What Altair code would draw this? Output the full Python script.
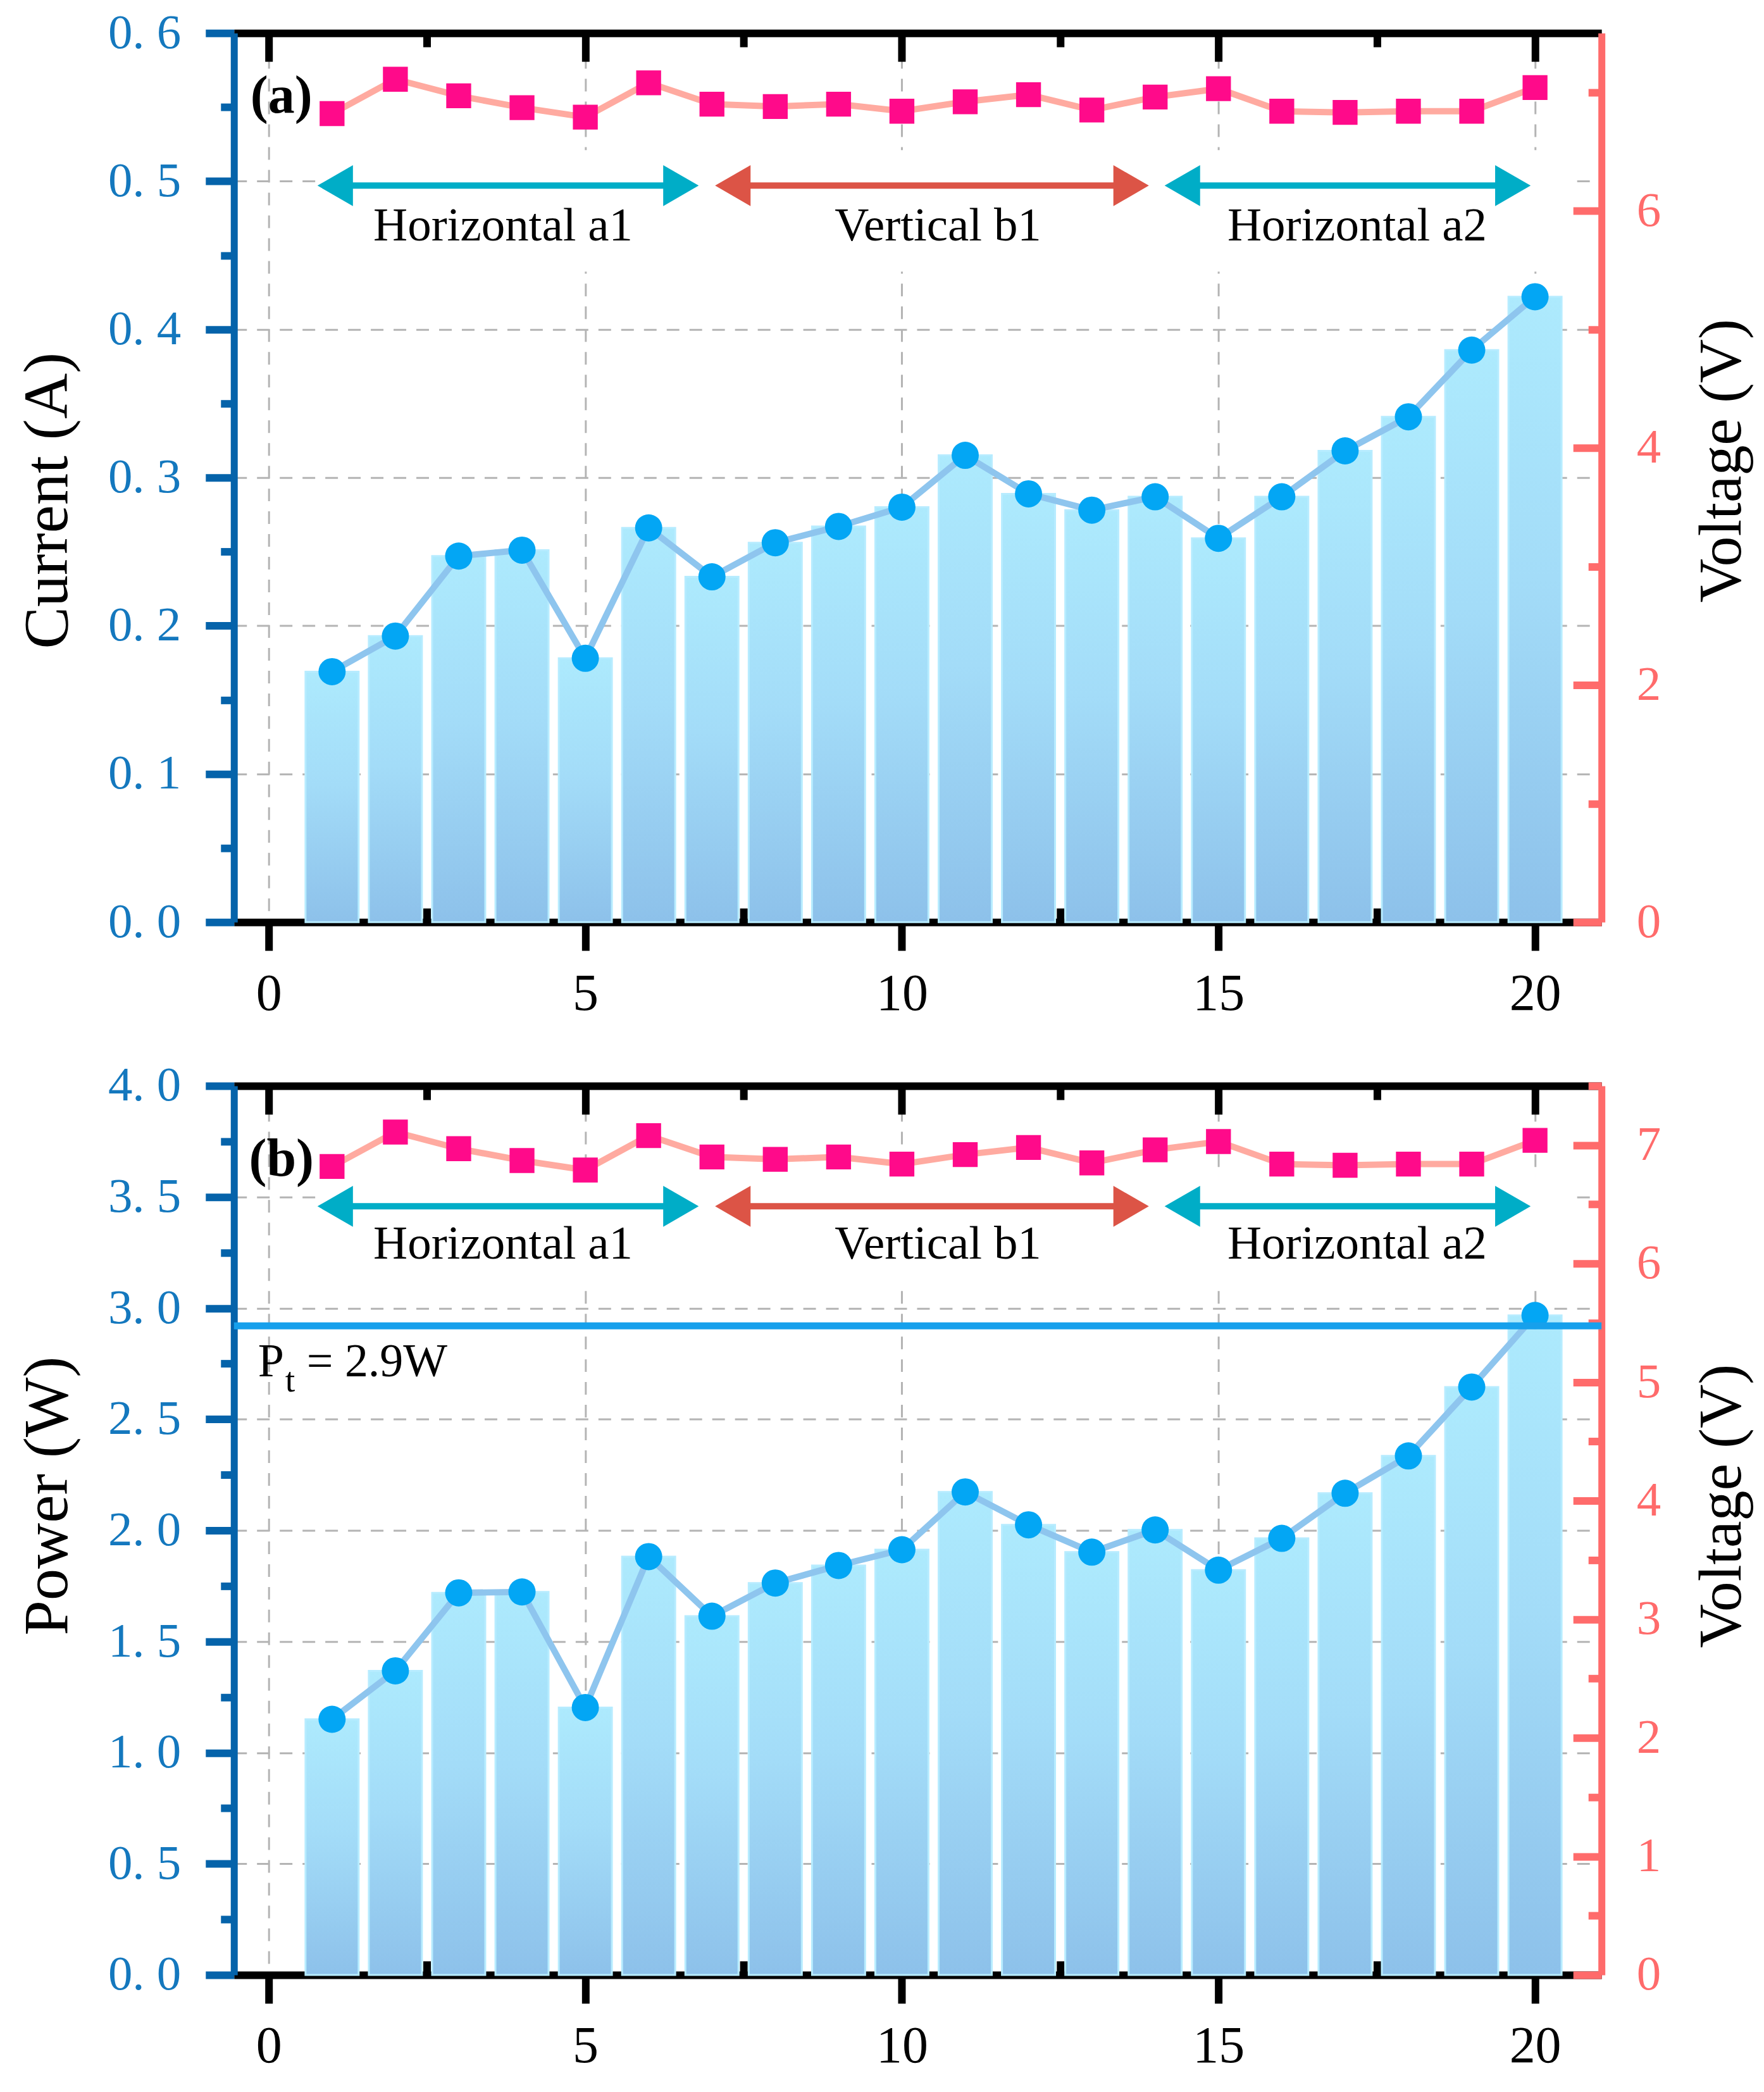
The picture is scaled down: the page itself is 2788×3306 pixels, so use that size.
import json
import altair as alt
import pandas as pd

# ---------------- data ----------------
position = list(range(1, 21))
current = [0.169, 0.193, 0.247, 0.251, 0.178, 0.266, 0.233, 0.256, 0.267, 0.280,
           0.315, 0.289, 0.278, 0.287, 0.259, 0.287, 0.318, 0.341, 0.386, 0.422]
power = [1.150, 1.368, 1.719, 1.723, 1.203, 1.882, 1.614, 1.763, 1.842, 1.913,
         2.173, 2.025, 1.902, 2.002, 1.821, 1.964, 2.167, 2.335, 2.645, 2.967]
voltage = [6.82, 7.11, 6.97, 6.87, 6.79, 7.08, 6.90, 6.88, 6.90, 6.84,
           6.92, 6.98, 6.85, 6.96, 7.03, 6.84, 6.83, 6.84, 6.84, 7.04]

segment_names = ["Horizontal a1", "Vertical b1", "Horizontal a2"]
segment_start = [0.77, 7.05, 14.15]
segment_end = [6.79, 13.90, 19.93]
segment_label_x = [3.70, 10.57, 17.19]
segment_colors = ["#00adc7", "#dc5446", "#00adc7"]

threshold_power = [2.92]
threshold_text = ["P", "t", "= 2.9W"]

x_major = [0, 5, 10, 15, 20]
x_minor = [2.5, 7.5, 12.5, 17.5]
cur_major = [0.0, 0.1, 0.2, 0.3, 0.4, 0.5, 0.6]
cur_minor = [0.05, 0.15, 0.25, 0.35, 0.45, 0.55]
pow_major = [0.0, 0.5, 1.0, 1.5, 2.0, 2.5, 3.0, 3.5, 4.0]
pow_minor = [0.25, 0.75, 1.25, 1.75, 2.25, 2.75, 3.25, 3.75]
volt_major_a = [0, 2, 4, 6]
volt_minor_a = [1, 3, 5, 7]
volt_major_b = [0, 1, 2, 3, 4, 5, 6, 7]
volt_minor_b = [0.5, 1.5, 2.5, 3.5, 4.5, 5.5, 6.5, 7.5]

# ---------------- style ----------------
W, H = 2163, 1406
X_DOMAIN = [-0.5, 21]
V_MAX = 7.5
SERIF = "Liberation Serif"
BLACK = "#000000"
BLUE_AXIS = "#0563aa"
BLUE_LABEL = "#1478be"
SALMON = "#ff6b6b"
GRID = "#b4b4b4"
DOT = "#03a6f4"
DOT_LINE = "#8ec5ee"
PINK = "#ff0a8a"
PINK_LINE = "#ffaaa0"
PT_BLUE = "#16a0ec"

bar_fill = alt.Gradient(
    gradient="linear", x1=0, x2=0, y1=0, y2=1,
    stops=[alt.GradientStop(offset=0, color="#adeafd"),
           alt.GradientStop(offset=0.45, color="#a3dcf8"),
           alt.GradientStop(offset=1, color="#8dc1ea")],
)

xscale = alt.Scale(domain=X_DOMAIN, nice=False, zero=False)
vscale = alt.Scale(domain=[0, V_MAX], nice=False, zero=False)


def is_major(vals):
    return f"indexof({json.dumps(vals)}, datum.value) >= 0"


def panel(yvals, ytitle, ymax, ymaj, ymin, vmaj, vmin, letter, letter_y,
          arrow_y, label_y, left_title_shift, right_title_shift, with_threshold=False):
    yscale = alt.Scale(domain=[0, ymax], nice=False, zero=False)
    df = pd.DataFrame({"x": position, "y": yvals, "v": voltage})

    axis_bottom = alt.Axis(
        orient="bottom", values=x_major, format="d", title=None,
        domainColor=BLACK, domainWidth=12, tickColor=BLACK, tickWidth=12, tickSize=45,
        labelFont=SERIF, labelFontSize=82, labelColor=BLACK, labelPadding=28,
        labelFlush=False, labelOverlap=False,
        grid=True, gridColor=GRID, gridDash=[20, 16], gridWidth=3,
    )
    axis_top = alt.Axis(
        orient="bottom", offset=-H, values=sorted(x_major + x_minor), labels=False,
        title=None, domainColor=BLACK, domainWidth=12, tickColor=BLACK, tickWidth=12,
        tickSize={"condition": {"test": is_major(x_major), "value": 45}, "value": 22},
        grid=False,
    )
    axis_bottom_minor = alt.Axis(
        orient="top", offset=-H, values=x_minor, labels=False, domain=False,
        title=None, tickColor=BLACK, tickWidth=12, tickSize=22, grid=False,
    )
    label_expr = (f"{is_major(ymaj)} ? replace(format(datum.value, '.1f'), '.', '. ') : ''")
    axis_left = alt.Axis(
        orient="left", values=sorted(ymaj + ymin), title=ytitle, labelExpr=label_expr,
        tickColor=BLUE_AXIS, tickWidth=12,
        tickSize={"condition": {"test": is_major(ymaj), "value": 45}, "value": 21},
        domainColor=BLUE_AXIS, domainWidth=11,
        labelFont=SERIF, labelFontSize=77, labelColor=BLUE_LABEL, labelPadding=39,
        labelFlush=False, labelOverlap=False,
        titleFont=SERIF, titleFontSize=100, titleFontWeight="normal", titleColor=BLACK,
        titlePadding=44, titleY=H / 2 + left_title_shift,
        grid=True, gridColor=GRID, gridDash=[20, 16], gridWidth=3,
        gridOpacity={"condition": {"test": is_major(ymaj), "value": 1}, "value": 0},
    )
    axis_right = alt.Axis(
        orient="right", values=vmaj, format="d", ticks=False,
        domainColor=SALMON, domainWidth=11,
        labelFont=SERIF, labelFontSize=77, labelColor=SALMON, labelPadding=55,
        labelFlush=False, labelOverlap=False,
        title="Voltage (V)", titleFont=SERIF, titleFontSize=96, titleFontWeight="normal",
        titleColor=BLACK, titleAngle=270, titleBaseline="top", titlePadding=50,
        titleY=H / 2 + right_title_shift, grid=False,
    )
    axis_right_ticks = alt.Axis(
        orient="left", offset=-W, values=sorted(vmaj + vmin), labels=False, domain=False,
        title=None, tickColor=SALMON, tickWidth=12,
        tickSize={"condition": {"test": is_major(vmaj), "value": 45}, "value": 21},
        grid=False,
    )

    def Y(field):
        # every layer of the left group carries the same left axis so that it merges
        return alt.Y(field, scale=yscale, axis=axis_left)

    bars = alt.Chart(df).mark_bar(size=84, fill=bar_fill, stroke="#b7ecff", strokeWidth=3).encode(
        x=alt.X("x:Q", scale=xscale, axis=axis_bottom),
        y=Y("y:Q"),
    )

    # white box behind the segment annotations (hides the grid there)
    box_df = pd.DataFrame({
        "bx1": [min(segment_start) - 0.02], "bx2": [max(segment_end) + 0.65],
        "by1": [label_y - 0.035 * ymax], "by2": [arrow_y + 0.04 * ymax],
    })
    box = alt.Chart(box_df).mark_rect(color="white").encode(
        x=alt.X("bx1:Q", scale=xscale, axis=None), x2="bx2:Q",
        y=Y("by1:Q"), y2="by2:Q",
    )

    line = alt.Chart(df).mark_line(color=DOT_LINE, strokeWidth=10).encode(
        x=alt.X("x:Q", scale=xscale, axis=axis_top),
        y=Y("y:Q"),
    )
    dots = alt.Chart(df).mark_point(shape="circle", filled=True, size=1850, color=DOT, opacity=1).encode(
        x=alt.X("x:Q", scale=xscale, axis=axis_bottom_minor),
        y=Y("y:Q"),
    )

    arr_df = pd.DataFrame({
        "s": segment_start, "e": segment_end, "c": segment_colors,
        "name": segment_names, "lx": segment_label_x,
        "ay": [arrow_y] * len(segment_names), "ly": [label_y] * len(segment_names),
    })
    shaft = alt.Chart(arr_df).transform_calculate(
        ss="datum.s + 0.25", ee="datum.e - 0.25"
    ).mark_rule(strokeWidth=10).encode(
        x=alt.X("ss:Q", scale=xscale, axis=None), x2="ee:Q",
        y=Y("ay:Q"),
        color=alt.Color("c:N", scale=None),
    )
    head_l = alt.Chart(arr_df).mark_point(shape="triangle-left", filled=True, size=4200,
                                          opacity=1, xOffset=28).encode(
        x=alt.X("s:Q", scale=xscale, axis=None),
        y=Y("ay:Q"),
        color=alt.Color("c:N", scale=None),
    )
    head_r = alt.Chart(arr_df).mark_point(shape="triangle-right", filled=True, size=4200,
                                          opacity=1, xOffset=-28).encode(
        x=alt.X("e:Q", scale=xscale, axis=None),
        y=Y("ay:Q"),
        color=alt.Color("c:N", scale=None),
    )
    labels = alt.Chart(arr_df).mark_text(font=SERIF, fontSize=75, color=BLACK,
                                         align="center", baseline="alphabetic").encode(
        x=alt.X("lx:Q", scale=xscale, axis=None),
        y=Y("ly:Q"),
        text="name:N",
    )
    letter_df = pd.DataFrame({"lx": [0.2], "ly": [letter_y], "t": [letter]})
    letter_mark = alt.Chart(letter_df).mark_text(font=SERIF, fontSize=84, fontWeight="bold",
                                                 color=BLACK, align="center", baseline="middle").encode(
        x=alt.X("lx:Q", scale=xscale, axis=None),
        y=Y("ly:Q"),
        text="t:N",
    )
    layers = [bars, box, line, dots, shaft, head_l, head_r, labels, letter_mark]

    if with_threshold:
        pt_df = pd.DataFrame({"p": threshold_power})
        pt_rule = alt.Chart(pt_df).mark_rule(color=PT_BLUE, strokeWidth=11).encode(
            y=Y("p:Q"),
        )
        txt_df = pd.DataFrame({"tx": [-0.17], "ty": [2.693],
                               "a": [threshold_text[0]], "b": [threshold_text[1]],
                               "c": [threshold_text[2]]})
        base = alt.Chart(txt_df)
        t1 = base.mark_text(font=SERIF, fontSize=74, color=BLACK, align="left",
                            baseline="alphabetic").encode(
            x=alt.X("tx:Q", scale=xscale, axis=None), y=Y("ty:Q"), text="a:N")
        t2 = base.mark_text(font=SERIF, fontSize=56, color=BLACK, align="left",
                            baseline="alphabetic", dx=43, dy=24).encode(
            x=alt.X("tx:Q", scale=xscale, axis=None), y=Y("ty:Q"), text="b:N")
        t3 = base.mark_text(font=SERIF, fontSize=74, color=BLACK, align="left",
                            baseline="alphabetic", dx=77).encode(
            x=alt.X("tx:Q", scale=xscale, axis=None), y=Y("ty:Q"), text="c:N")
        layers += [pt_rule, t1, t2, t3]

    left = alt.layer(*layers).resolve_axis(x="independent")

    vline = alt.Chart(df).mark_line(color=PINK_LINE, strokeWidth=10).encode(
        x=alt.X("x:Q", scale=xscale, axis=None),
        y=alt.Y("v:Q", scale=vscale, axis=axis_right_ticks),
    )
    vpts = alt.Chart(df).mark_point(shape="square", filled=True, size=1550, color=PINK, opacity=1).encode(
        x=alt.X("x:Q", scale=xscale, axis=None),
        y=alt.Y("v:Q", scale=vscale, axis=axis_right),
    )
    right = alt.layer(vline, vpts).resolve_axis(y="independent")

    return alt.layer(left, right).resolve_scale(y="independent").properties(width=W, height=H)


panel_a = panel(current, "Current (A)", 0.6, cur_major, cur_minor, volt_major_a, volt_minor_a,
                "(a)", 0.557, 0.497, 0.46, 36, -27)
panel_b = panel(power, "Power (W)", 4.0, pow_major, pow_minor, volt_major_b, volt_minor_b,
                "(b)", 3.668, 3.458, 3.224, -55, -39, with_threshold=True)

chart = alt.vconcat(panel_a, panel_b, spacing=259, bounds="flush").properties(
    padding={"left": 17, "top": 4, "right": 10, "bottom": 10}
).configure_view(strokeWidth=0)

chart.save("out.html", embed_options={"renderer": "svg", "actions": False})
